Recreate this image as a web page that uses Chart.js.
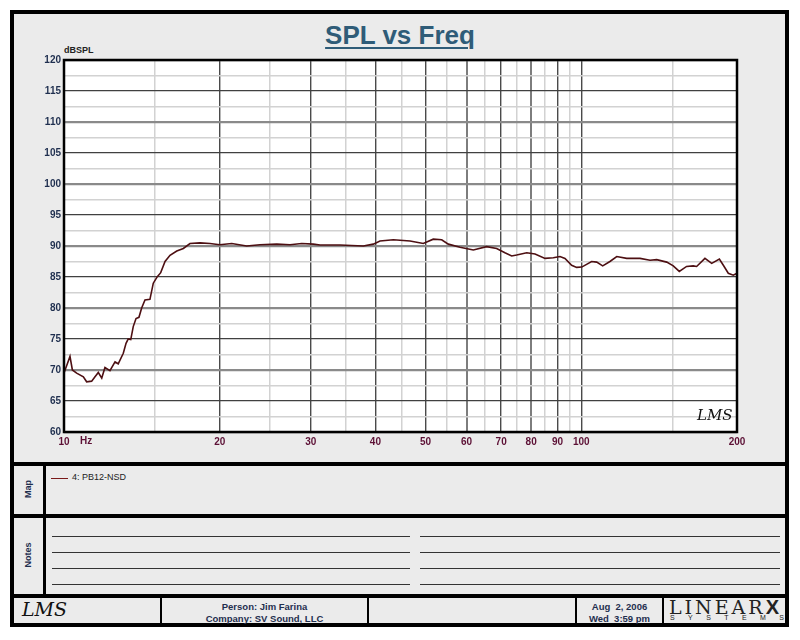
<!DOCTYPE html>
<html>
<head>
<meta charset="utf-8">
<script src="https://cdn.jsdelivr.net/npm/chart.js@4.4.1/dist/chart.umd.min.js"></script>
<style>
  body { margin: 0; background: #ffffff; width: 800px; height: 640px; position: relative; overflow: hidden;
         font-family: "Liberation Sans", Arial, sans-serif; }
  .abs { position: absolute; box-sizing: border-box; }
  .frame { left: 10px; top: 10px; width: 779px; height: 617px; border: 4px solid #000; background: #ebebeb; }
  .hbar { background: #000; height: 4px; left: 10px; width: 779px; }
  .vbar { background: #000; width: 2px; }
  .title { left: 0; width: 800px; top: 20px; text-align: center; font-weight: bold; font-size: 26px;
           color: #2f5c78; text-decoration: underline; text-decoration-thickness: 2px; text-underline-offset: 3px; }
  .rot { font-weight: bold; font-size: 9px; color: #1f2f4f; transform: rotate(-90deg); text-align: center; width: 50px; }
  .note { height: 1px; background: #333; }
  .foot { font-weight: bold; font-size: 9.5px; color: #1f2f4f; text-align: center; line-height: 12px; }
  .lms { font-family: "DejaVu Serif", serif; font-style: italic; color: #111; }
</style>
</head>
<body>
<div class="abs frame"></div>
<div class="abs title">SPL vs Freq</div>
<div class="abs" style="left:64px;top:45px;font-size:9px;font-weight:bold;color:#222;">dBSPL</div>
<canvas id="spl" class="abs" style="left:14px;top:14px;" width="771" height="448"></canvas>
<div class="abs lms" style="left:697px;top:406px;font-size:15px;">LMS</div>

<div class="abs hbar" style="top:462px;"></div>
<div class="abs hbar" style="top:514px;"></div>
<div class="abs hbar" style="top:594px;"></div>
<div class="abs vbar" style="left:43px;top:466px;height:128px;width:3px;"></div>

<div class="abs rot" style="left:3px;top:484px;">Map</div>
<div class="abs rot" style="left:3px;top:550px;">Notes</div>

<div class="abs" style="left:51px;top:478px;width:17px;height:1px;background:#7a1a1a;"></div>
<div class="abs" style="left:72px;top:472px;font-size:9px;color:#222;">4: PB12-NSD</div>

<div class="abs note" style="left:52px;width:358px;top:536px;"></div>
<div class="abs note" style="left:52px;width:358px;top:552px;"></div>
<div class="abs note" style="left:52px;width:358px;top:568px;"></div>
<div class="abs note" style="left:52px;width:358px;top:584px;"></div>
<div class="abs note" style="left:420px;width:360px;top:536px;"></div>
<div class="abs note" style="left:420px;width:360px;top:552px;"></div>
<div class="abs note" style="left:420px;width:360px;top:568px;"></div>
<div class="abs note" style="left:420px;width:360px;top:584px;"></div>

<div class="abs vbar" style="left:160px;top:598px;height:25px;"></div>
<div class="abs vbar" style="left:367px;top:598px;height:25px;"></div>
<div class="abs vbar" style="left:575px;top:598px;height:25px;"></div>
<div class="abs vbar" style="left:662px;top:598px;height:25px;"></div>

<div class="abs lms" style="left:22px;top:598px;font-size:19px;">LMS</div>
<div class="abs foot" style="left:162px;width:205px;top:601px;">Person: Jim Farina<br>Company: SV Sound, LLC</div>
<div class="abs foot" style="left:577px;width:85px;top:601px;">Aug&nbsp; 2, 2006<br>Wed&nbsp; 3:59 pm</div>
<div class="abs" style="left:669px;top:596px;font-family:'DejaVu Serif',serif;font-size:19px;letter-spacing:3px;color:#222;font-weight:200;">LINEAR<span style="font-family:'Liberation Sans',sans-serif;font-weight:900;font-size:20px;letter-spacing:0;">X</span></div>
<div class="abs" style="left:670px;top:614px;font-size:7px;letter-spacing:13.4px;color:#222;white-space:nowrap;">SYSTEMS</div>

<script>
var freqHz = [10.0, 10.27, 10.38, 10.58, 10.9, 11.06, 11.31, 11.48, 11.65, 11.83, 12.0, 12.27, 12.55, 12.73,
  13.02, 13.18, 13.31, 13.46, 13.61, 13.78, 13.96, 14.13, 14.34, 14.66, 14.88, 15.15, 15.38, 15.68, 16.03,
  16.52, 17.01, 17.52, 18.32, 19.15, 20.0, 21.1, 22.55, 23.92, 25.78, 27.35, 28.81, 30.33, 31.26, 34.17,
  37.9, 39.62, 40.82, 43.32, 46.66, 49.5, 51.75, 53.72, 55.33, 58.3, 61.84, 65.62, 68.61, 71.19, 73.36,
  75.0, 78.44, 81.4, 85.1, 88.3, 90.95, 93.0, 95.8, 97.97, 100.2, 104.7, 107.1, 110.0, 113.6, 117.1, 122.4,
  129.9, 135.8, 139.9, 146.3, 150.6, 154.7, 159.8, 164.6, 167.1, 173.4, 178.7, 184.9, 188.2, 192.4, 196.7, 200];
var splDb = [69.5, 72.2, 70.0, 69.5, 68.9, 68.1, 68.2, 68.9, 69.6, 68.7, 70.4, 69.9, 71.3, 71.0,
  72.7, 74.3, 75.0, 74.9, 77.0, 78.3, 78.5, 80.0, 81.3, 81.4, 84.0, 85.05, 85.7, 87.5, 88.5,
  89.2, 89.6, 90.4, 90.5, 90.4, 90.2, 90.4, 90.0, 90.2, 90.3, 90.2, 90.4, 90.3, 90.15, 90.15,
  90.0, 90.3, 90.8, 91.0, 90.8, 90.4, 91.1, 91.0, 90.3, 89.8, 89.35, 89.9, 89.6, 88.9, 88.4,
  88.55, 88.9, 88.7, 88.0, 88.1, 88.3, 88.0, 86.9, 86.55, 86.6, 87.5, 87.4, 86.8, 87.5, 88.3, 88.0,
  88.0, 87.7, 87.8, 87.4, 86.8, 85.9, 86.7, 86.8, 86.7, 88.0, 87.2, 87.9, 86.9, 85.6, 85.3, 85.6];

// grid / tick definitions
var xGridHz = [10, 15, 20, 25, 30, 35, 40, 45, 50, 55, 60, 65, 70, 75, 80, 85, 90, 95, 100, 150, 200];
var xLabelHz = [10, 20, 30, 40, 50, 60, 70, 80, 90, 100, 200];
var yGridDb = [60, 62.5, 65, 67.5, 70, 72.5, 75, 77.5, 80, 82.5, 85, 87.5, 90, 92.5, 95, 97.5,
  100, 102.5, 105, 107.5, 110, 112.5, 115, 117.5, 120];
var yLabelDb = [60, 65, 70, 75, 80, 85, 90, 95, 100, 105, 110, 115, 120];

var points = freqHz.map(function (f, i) { return { x: f, y: splDb[i] }; });

var plotFrame = {
  id: "plotFrame",
  beforeDraw: function (chart) {
    var a = chart.chartArea, c = chart.ctx;
    c.save();
    c.fillStyle = "#ffffff";
    c.fillRect(a.left, a.top, a.right - a.left, a.bottom - a.top);
    c.restore();
  },
  afterDraw: function (chart) {
    var a = chart.chartArea, c = chart.ctx;
    c.save();
    c.strokeStyle = "#000000";
    c.lineWidth = 2.5;
    c.strokeRect(a.left, a.top, a.right - a.left, a.bottom - a.top);
    // unit next to the first frequency label
    c.fillStyle = "#5c1035";
    c.font = "bold 10px 'Liberation Sans Narrow', 'Liberation Sans', sans-serif";
    c.textBaseline = "top";
    c.fillText("Hz", chart.scales.x.getPixelForValue(10) + 16, a.bottom + 4);
    c.restore();
  }
};

new Chart(document.getElementById("spl"), {
  type: "line",
  data: {
    datasets: [{
      label: "4: PB12-NSD",
      data: points,
      borderColor: "#4d0f12",
      borderWidth: 1.6,
      pointRadius: 0,
      tension: 0,
      fill: false
    }]
  },
  options: {
    responsive: false,
    animation: false,
    layout: { padding: { top: 46, right: 48, left: 0, bottom: 0 } },
    plugins: { legend: { display: false }, tooltip: { enabled: false } },
    scales: {
      x: {
        type: "logarithmic",
        min: 10,
        max: 200,
        afterBuildTicks: function (scale) {
          scale.ticks = xGridHz.map(function (v) { return { value: v }; });
        },
        afterFit: function (scale) { scale.height = 30; },
        border: { display: false },
        grid: {
          drawTicks: false,
          color: function (ctx) {
            var v = ctx.tick && ctx.tick.value;
            if (xLabelHz.indexOf(v) < 0) return "#d2d2d2";
            return (v === 60 || v === 80) ? "#7d7d7d" : "#4a4a4a";
          },
          lineWidth: function (ctx) {
            var v = ctx.tick && ctx.tick.value;
            if (xLabelHz.indexOf(v) < 0) return 1.5;
            return (v === 60 || v === 80) ? 2 : 1.4;
          }
        },
        ticks: {
          autoSkip: false,
          maxRotation: 0,
          padding: 4,
          color: "#5c1035",
          font: { family: "'Liberation Sans Narrow', 'Liberation Sans', sans-serif", size: 10, weight: "bold" },
          callback: function (value) {
            return xLabelHz.indexOf(value) >= 0 ? String(value) : "";
          }
        }
      },
      y: {
        min: 60,
        max: 120,
        afterBuildTicks: function (scale) {
          scale.ticks = yGridDb.map(function (v) { return { value: v }; });
        },
        afterFit: function (scale) { scale.width = 50; },
        border: { display: false },
        grid: {
          drawTicks: false,
          color: function (ctx) {
            var v = ctx.tick && ctx.tick.value;
            if (v % 10 === 0) return "#8a8a8a";
            if (v % 5 === 0) return "#404040";
            return "#d2d2d2";
          },
          lineWidth: function (ctx) {
            var v = ctx.tick && ctx.tick.value;
            if (v % 10 === 0) return 2.2;
            if (v % 5 === 0) return 1.2;
            return 1.5;
          }
        },
        ticks: {
          autoSkip: false,
          padding: 3,
          color: "#1f2f4f",
          font: { family: "'Liberation Sans Narrow', 'Liberation Sans', sans-serif", size: 10, weight: "bold" },
          callback: function (value) {
            return yLabelDb.indexOf(value) >= 0 ? String(value) : "";
          }
        }
      }
    }
  },
  plugins: [plotFrame]
});
</script>
</body>
</html>
